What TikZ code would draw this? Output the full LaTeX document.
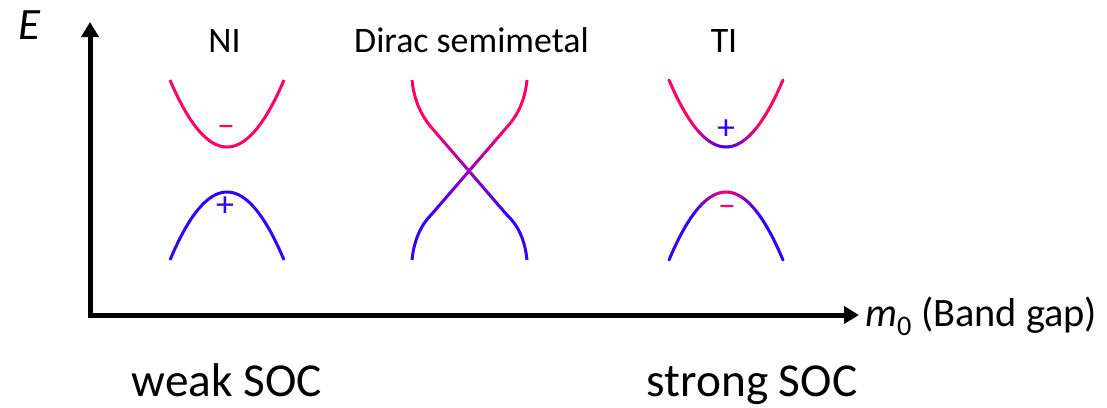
\documentclass[tikz,border=0pt]{standalone}
\usepackage{fontspec}
\setmainfont{Carlito}
\usetikzlibrary{arrows.meta,calc}
\definecolor{pinkc}{RGB}{255,0,102}
\definecolor{bluec}{RGB}{51,0,255}
\begin{document}
\begin{tikzpicture}[x=1bp,y=-1bp,
  axis/.style={line width=5bp,{Triangle[width=17bp,length=15bp]}-{Triangle[width=17bp,length=15bp]}},
  band/.style={line width=3bp},
  seg/.style={line width=3bp,line cap=round},
  title/.style={font=\fontsize{36}{43}\selectfont,inner sep=0pt,anchor=base},
  sign/.style={font=\fontsize{36}{43}\selectfont,inner sep=0pt},
  big/.style={font=\fontsize{47.5}{56}\selectfont,inner sep=0pt,anchor=base}]
\useasboundingbox (0,0) rectangle (1107,407);
% axes
\coordinate (O) at (90,315);
\coordinate (Ytip) at (90,22);
\coordinate (Xtip) at (859,315);
\draw[axis] (Ytip) -- (O) -- (Xtip);
\node[font=\fontsize{45}{54}\selectfont\itshape,inner sep=0pt] (E) at (29,25) {E};
\node[font=\fontsize{40.5}{48}\selectfont,anchor=base west,inner sep=0pt] (m0) at (865,326) {\textit{m}\textsubscript{0} (Band gap)};
% titles
\node[title] (ni) at (224.5,52) {NI};
\node[title] (dirac) at (471.5,52) {Dirac semimetal};
\node[title] (ti) at (724,52) {TI};
% NI
\draw[band,pinkc] plot[domain=-1:1,samples=61] ({227+57*\x},{147-67*\x*\x});
\draw[band,bluec] plot[domain=-1:1,samples=61] ({227+57*\x},{192+68*\x*\x});
\node[sign,text=pinkc] (nim) at (226,131) {–};
\node[sign,text=bluec] (nip) at (225,207) {+};
% Dirac semimetal
\coordinate (dtl) at (412,80);
\coordinate (dtr) at (527,80);
\coordinate (dkl) at (431,127);
\coordinate (dkr) at (507,127);
\coordinate (dbl) at (412,260);
\coordinate (dbr) at (527,260);
\coordinate (dll) at (431,215);
\coordinate (dlr) at (507,215);
\draw[band,pinkc] (dtl) .. controls (414,100) and (421,115) .. (dkl);
\draw[band,pinkc] (dtr) .. controls (525,100) and (518,115) .. (dkr);
\draw[band,bluec] (dbr) .. controls (525,240) and (518,225) .. (dlr);
\draw[band,bluec] (dbl) .. controls (414,240) and (421,225) .. (dll);
\foreach \i in {0,...,23} {
  \pgfmathsetmacro\sa{\i/24}
  \pgfmathsetmacro\sb{(\i+1)/24}
  \pgfmathsetmacro\p{100-100*(\sa+\sb)/2}
  \draw[seg,color=pinkc!\p!bluec] ($(dkl)!\sa!(dlr)$) -- ($(dkl)!\sb!(dlr)$);
  \draw[seg,color=pinkc!\p!bluec] ($(dkr)!\sa!(dll)$) -- ($(dkr)!\sb!(dll)$);
}
% TI
\foreach \i in {0,...,47} {
  \pgfmathsetmacro\ta{-1+\i/24}
  \pgfmathsetmacro\tb{-1+(\i+1)/24}
  \pgfmathsetmacro\tm{abs((\ta+\tb)/2)}
  \pgfmathsetmacro\pu{min(100,\tm*170)}
  \pgfmathsetmacro\pl{max(0,100-\tm*170)}
  \draw[seg,color=pinkc!\pu!bluec] ({726+57*\ta},{147-67*\ta*\ta}) -- ({726+57*\tb},{147-67*\tb*\tb});
  \draw[seg,color=pinkc!\pl!bluec] ({726+57*\ta},{192+68*\ta*\ta}) -- ({726+57*\tb},{192+68*\tb*\tb});
}
\node[sign,text=bluec] (tip) at (726,130) {+};
\node[sign,text=pinkc] (tim) at (727,211) {–};
% bottom labels
\node[big] (weak) at (227,396) {weak SOC};
\node[big] (strong) at (752,396) {strong SOC};
\end{tikzpicture}
\end{document}
